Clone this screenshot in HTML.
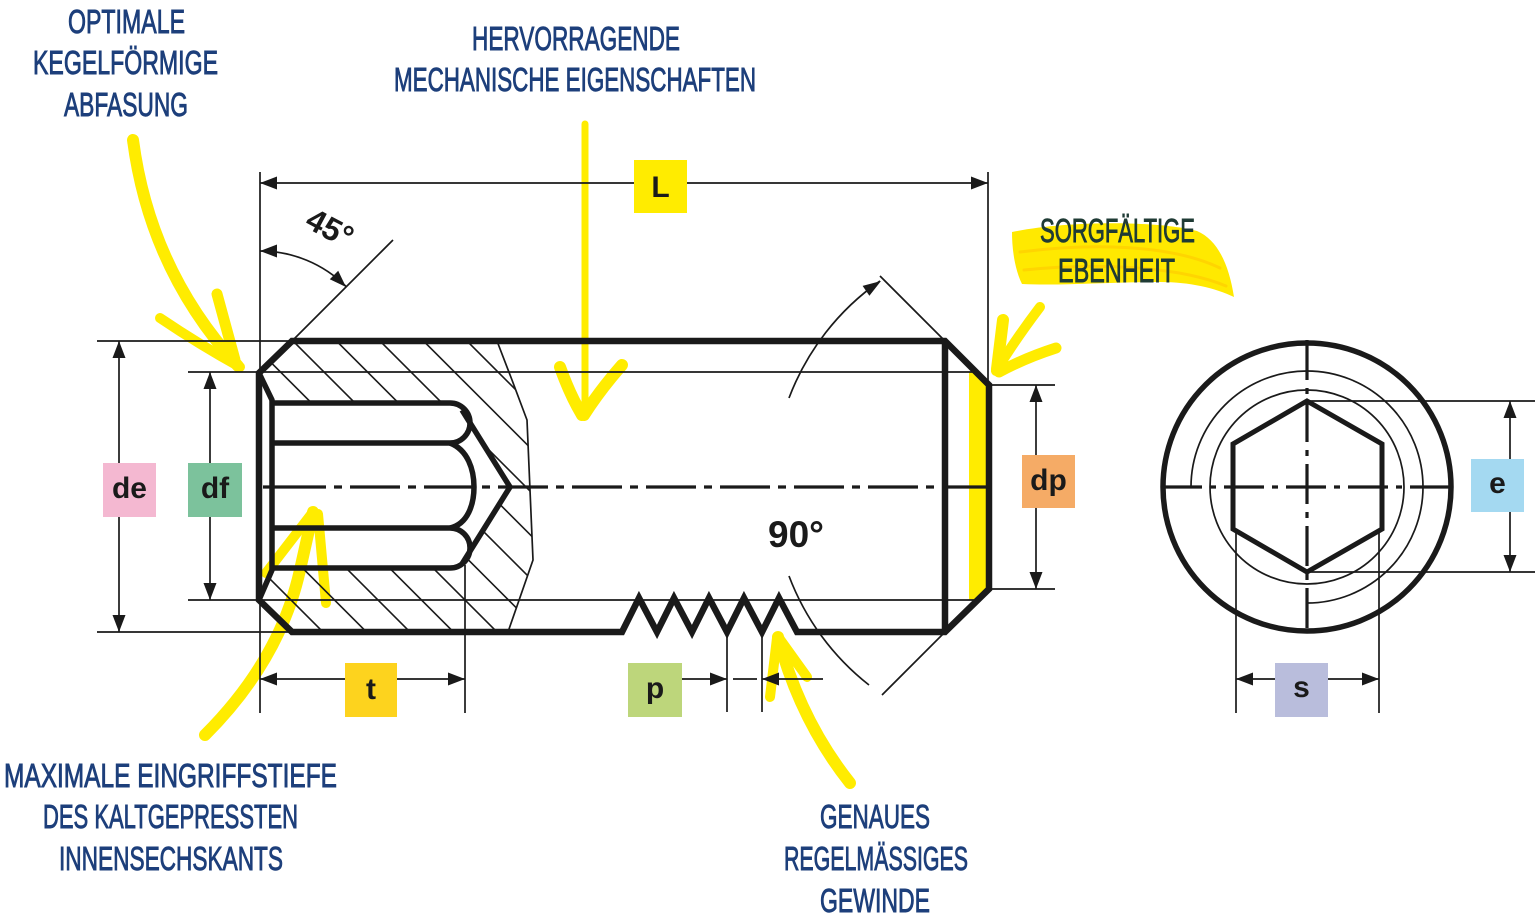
<!DOCTYPE html>
<html><head><meta charset="utf-8"><style>
html,body{margin:0;padding:0;background:#fff;}
svg{display:block;}
.h{font-family:"Liberation Sans",sans-serif;font-size:33px;fill:#1d3f7b;stroke:#1d3f7b;stroke-width:0.9px;}
.hg{font-family:"Liberation Sans",sans-serif;font-size:33px;fill:#1f3b35;stroke:#1f3b35;stroke-width:0.9px;}
.b{font-family:"Liberation Sans",sans-serif;font-weight:bold;fill:#1a1a1a;}
</style></head><body>
<svg width="1538" height="921" viewBox="0 0 1538 921" xmlns="http://www.w3.org/2000/svg">
<defs>
<clipPath id="hc"><path clip-rule="evenodd" d="M259 373 L292 341 L497 341 L512 380 L527 420 L533 560 L508 632 L292 632 L259 600 Z M259 373 L272 403 L452 403 L467 417 L510 487 L467 557 L452 568 L272 568 L259 598 Z"/></clipPath>
</defs>
<rect width="1538" height="921" fill="#fff"/>

<!-- yellow brush behind text -->
<path d="M1012 232 C1070 220 1160 221 1197 231 C1218 240 1229 265 1234 297 C1215 288 1190 282 1160 282 C1110 282 1060 286 1022 284 C1015 270 1012 250 1012 232 Z" fill="#ffe900"/>
<g fill="none" stroke="#ffd500" stroke-width="3" stroke-linecap="round">
<path d="M1020 252 C1090 243 1170 244 1220 268"/>
<path d="M1024 270 C1090 263 1175 265 1226 286"/>
</g>

<!-- yellow arrows -->
<polygon points="969,372 976,372 989,385 989,589 978,600 969,600" fill="#ffec00"/>
<g stroke="#ffec00" fill="none" stroke-linecap="round" stroke-linejoin="round">
 <path d="M133 140 Q150 270 238 366" stroke-width="12"/>
 <path d="M160 318 Q200 345 240 367" stroke-width="10"/>
 <path d="M217 294 L235 360" stroke-width="11"/>
 <path d="M585 124 L585 412" stroke-width="7"/>
 <path d="M560 367 Q570 395 582 415" stroke-width="12"/>
 <path d="M622 365 Q600 390 584 415" stroke-width="12"/>
 <path d="M1040 307 Q1015 340 996 371" stroke-width="10"/>
 <path d="M1003 320 L997 369" stroke-width="12"/>
 <path d="M1056 348 Q1025 358 999 372" stroke-width="11"/>
 <path d="M205 735 Q280 660 300 570 L313 512" stroke-width="12"/>
 <path d="M313 512 L266 573" stroke-width="10"/>
 <path d="M318 514 L326 603" stroke-width="10"/>
 <path d="M850 783 Q800 720 778 637" stroke-width="12"/>
 <path d="M777 638 L770 697" stroke-width="10"/>
 <path d="M779 638 L807 677" stroke-width="10"/>
</g>

<!-- hatching -->
<g clip-path="url(#hc)" stroke="#1a1a1a" stroke-width="1.6">
<path d="M-66 330 L244 640 M-22.5 330 L287.5 640 M21 330 L331 640 M64.5 330 L374.5 640 M108 330 L418 640 M151.5 330 L461.5 640 M195 330 L505 640 M238.5 330 L548.5 640 M282 330 L592 640 M325.5 330 L635.5 640 M369 330 L679 640 M412.5 330 L722.5 640 M456 330 L766 640"/>
</g>

<!-- thin lines -->
<g stroke="#1a1a1a" stroke-width="1.7" fill="none">
 <path d="M97 341 H292 M97 632 H292 M188 372 H975 M188 600 H975"/>
 <path d="M119 341 V632 M210 372 V600 M260 172 V713 M260 183 H988 M988 172 V385"/>
 <path d="M292 341 L393 240"/>
 <path d="M260 251 A 122 122 0 0 1 346.3 286.7"/>
 <path d="M989 385 H1055 M989 589 H1055 M1036 385 V589"/>
 <path d="M465 565 V713 M260 679 H465"/>
 <path d="M727 632 V712 M762 632 V712 M682 679 H727 M733 679 H757 M762 679 H823"/>
 <path d="M789 398 A 251 251 0 0 1 880 281"/>
 <path d="M789 576 A 251 251 0 0 0 869 685"/>
 <path d="M945 341 L880 276 M945 632 L882 695"/>
 <path d="M497 341 L512 380 L527 420 L533 560 L508 632"/>
 <circle cx="1307" cy="487" r="97"/>
 <path d="M1191 487 A 116 116 0 1 1 1307 603"/>
 <path d="M1307 401 H1535 M1307 572 H1535 M1510 401 V572"/>
 <path d="M1236 529 V713 M1379 529 V713 M1236 679 H1379"/>
</g>

<!-- arrowheads -->
<g fill="#1a1a1a">
 <polygon points="119,341 112.5,358 125.5,358"/>
 <polygon points="119,632 112.5,615 125.5,615"/>
 <polygon points="210,372 203.5,389 216.5,389"/>
 <polygon points="210,600 203.5,583 216.5,583"/>
 <polygon points="1036,385 1029.5,402 1042.5,402"/>
 <polygon points="1036,589 1029.5,572 1042.5,572"/>
 <polygon points="1510,401 1503.5,418 1516.5,418"/>
 <polygon points="1510,572 1503.5,555 1516.5,555"/>
 <polygon points="260,183 277,176.5 277,189.5"/>
 <polygon points="988,183 971,176.5 971,189.5"/>
 <polygon points="260,679 277,672.5 277,685.5"/>
 <polygon points="465,679 448,672.5 448,685.5"/>
 <polygon points="727,679 710,672.5 710,685.5"/>
 <polygon points="762,679 779,672.5 779,685.5"/>
 <polygon points="1236,679 1253,672.5 1253,685.5"/>
 <polygon points="1379,679 1362,672.5 1362,685.5"/>
 <polygon points="260,251 277,244.5 277,257.5"/>
 <polygon points="346,287 329.8,279.2 338.2,270.8"/>
 <polygon points="881,281 869.4,295.7 862.6,285.9"/>
</g>

<!-- body thick -->
<g stroke="#1a1a1a" stroke-width="6.5" fill="none" stroke-linejoin="miter">
 <path d="M292 341 L945 341 L989 385 L989 589 L945 632 L797 632 L779 598 L762 632 L744 598 L727 632 L709 598 L692 632 L674 598 L657 632 L639 598 L622 632 L292 632 L259 600 L259 373 Z"/>
 <path d="M945 341 V632"/>
</g>
<!-- socket -->
<g stroke="#1a1a1a" stroke-width="5.5" fill="none" stroke-linejoin="round">
 <path d="M259 373 L272 400 L272 570 L259 600"/>
 <path d="M272 403 H450 A 20 20 0 0 1 450 443 H272"/>
 <path d="M450 443 C468 450 474 470 474 487 C474 504 468 524 450 528"/>
 <path d="M272 528 H450 A 20 20 0 0 1 450 568 H272"/>
 <path d="M462 410 L510 487 L462 564"/>
</g>

<!-- centerlines -->
<g stroke="#1a1a1a" stroke-width="3.2" fill="none">
 <path d="M263 487 H326"/>
 <path d="M334 487 H988" stroke-dasharray="8 8 50 8"/>
 <path d="M1162 487 H1452" stroke-dasharray="40 8 6 8"/>
 <path d="M1307 340 V632" stroke-dasharray="40 8 6 8"/>
</g>

<!-- end view thick -->
<circle cx="1307" cy="487" r="144" fill="none" stroke="#1a1a1a" stroke-width="5.5"/>
<polygon points="1307,401 1382,444 1382,529 1307,572 1233,529 1233,444" fill="none" stroke="#1a1a1a" stroke-width="5"/>

<!-- label boxes -->
<rect x="103" y="463" width="53" height="54" fill="#f4b8d1"/>
<rect x="188" y="463" width="54" height="54" fill="#7cc29c"/>
<rect x="634" y="160" width="53" height="53" fill="#ffec00"/>
<rect x="345" y="663" width="52" height="54" fill="#fdd31e"/>
<rect x="628" y="663" width="54" height="54" fill="#bdd67b"/>
<rect x="1022" y="455" width="53" height="53" fill="#f5ab66"/>
<rect x="1471" y="459" width="53" height="53" fill="#a4d9f1"/>
<rect x="1275" y="663" width="53" height="54" fill="#b9bddc"/>
<g class="b" font-size="30" text-anchor="middle">
 <text x="129.5" y="498">de</text>
 <text x="215" y="498">df</text>
 <text x="660.5" y="197">L</text>
 <text x="371" y="699">t</text>
 <text x="655" y="698">p</text>
 <text x="1048.5" y="490">dp</text>
 <text x="1497.5" y="493">e</text>
 <text x="1301.5" y="697">s</text>
</g>

<text class="b" x="796" y="547" text-anchor="middle" font-size="37">90°</text>
<text class="b" x="330" y="239" text-anchor="middle" font-size="32" transform="rotate(28 330 228)">45°</text>

<!-- handwritten labels -->
<text class="h" x="68" y="33" textLength="117" lengthAdjust="spacingAndGlyphs">OPTIMALE</text>
<text class="h" x="33" y="74" textLength="185" lengthAdjust="spacingAndGlyphs">KEGELFÖRMIGE</text>
<text class="h" x="64" y="116" textLength="124" lengthAdjust="spacingAndGlyphs">ABFASUNG</text>
<text class="h" x="472" y="50" textLength="208" lengthAdjust="spacingAndGlyphs">HERVORRAGENDE</text>
<text class="h" x="394" y="91" textLength="362" lengthAdjust="spacingAndGlyphs">MECHANISCHE EIGENSCHAFTEN</text>
<text class="hg" x="1040" y="242" textLength="155" lengthAdjust="spacingAndGlyphs">SORGFÄLTIGE</text>
<text class="hg" x="1058" y="282" textLength="117" lengthAdjust="spacingAndGlyphs">EBENHEIT</text>
<text class="h" x="4" y="787" textLength="333" lengthAdjust="spacingAndGlyphs">MAXIMALE EINGRIFFSTIEFE</text>
<text class="h" x="43" y="828" textLength="255" lengthAdjust="spacingAndGlyphs">DES KALTGEPRESSTEN</text>
<text class="h" x="59" y="870" textLength="224" lengthAdjust="spacingAndGlyphs">INNENSECHSKANTS</text>
<text class="h" x="820" y="828" textLength="110" lengthAdjust="spacingAndGlyphs">GENAUES</text>
<text class="h" x="784" y="870" textLength="184" lengthAdjust="spacingAndGlyphs">REGELMÄSSIGES</text>
<text class="h" x="820" y="912" textLength="110" lengthAdjust="spacingAndGlyphs">GEWINDE</text>
</svg>
</body></html>
